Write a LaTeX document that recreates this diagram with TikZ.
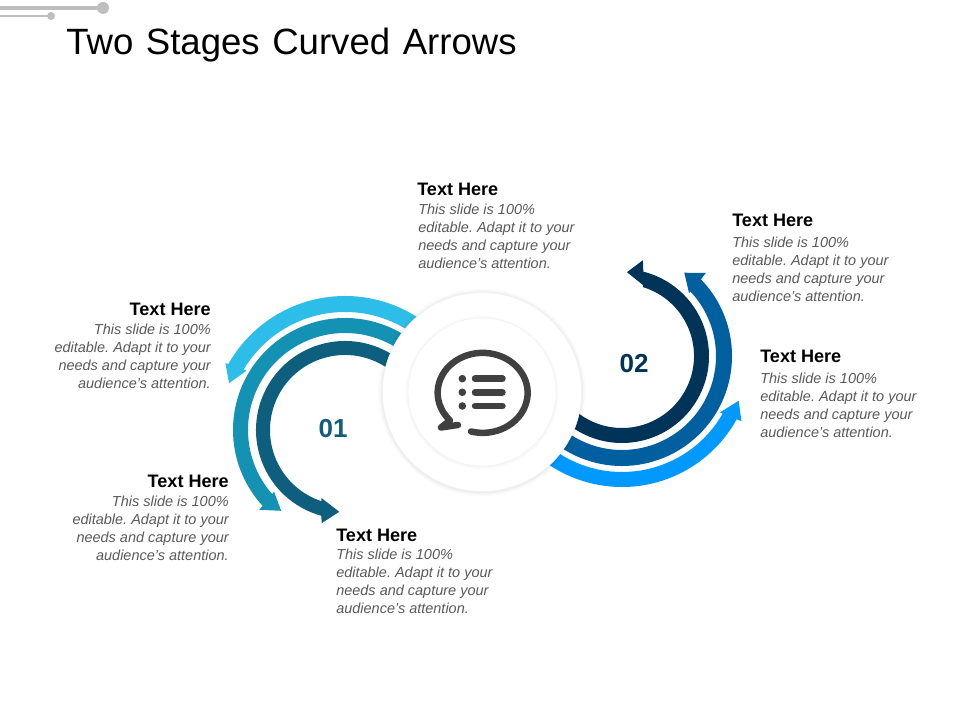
\documentclass[tikz,border=0pt]{standalone}
\usepackage{fontspec}
\setmainfont{Liberation Sans}
\frenchspacing
\definecolor{leftouter}{HTML}{2CBDE8}
\definecolor{leftmid}{HTML}{1492B4}
\definecolor{leftinner}{HTML}{0E5F7E}
\definecolor{rightouter}{HTML}{0099FF}
\definecolor{rightmid}{HTML}{005F9E}
\definecolor{rightinner}{HTML}{003358}
\definecolor{icongray}{HTML}{404040}
\definecolor{bargray}{HTML}{BFBFBF}
\definecolor{bodygray}{HTML}{595959}
\tikzset{
  headtext/.style={inner sep=0pt, font=\fontsize{12.85}{14}\selectfont\bfseries, text=black},
  bodytext/.style={inner sep=0pt, font=\fontsize{10.3}{12.7}\selectfont\itshape, text=bodygray},
  numtext/.style={inner sep=0pt, font=\fontsize{18.5}{20}\selectfont\bfseries},
  iconline/.style={draw=icongray, line width=4.6pt, line cap=round, line join=round},
  disc/.style={fill=white, draw=black!5, line width=0.4pt},
}
\newcommand{\ringarrow}[9]{%
  \fill[#1] (#4:#2) arc[start angle=#4, end angle=#5, radius=#2]
    -- #7 -- #8 -- #9 -- (#6:#3) arc[start angle=#6, end angle=#4, radius=#3] -- cycle;}
\newcommand{\slidetext}{This slide is 100\%\\editable. Adapt it to your\\needs and capture your\\audience\symbol{39}s attention.}
\begin{document}
\begin{tikzpicture}[x=0.025cm, y=0.025cm]
  \useasboundingbox (0,0) rectangle (960,720);
  \draw[bargray, line width=3.2pt] (0,712) -- (103,712);
  \fill[bargray] (103,712) circle[radius=6];
  \draw[bargray, line width=2.1pt] (0,704) -- (51,704);
  \fill[bargray] (51,704) circle[radius=4];
  \node[inner sep=0pt, anchor=base west, font=\fontsize{26}{30}\selectfont] (title) at (66,665) {\spaceskip=.345em Two Stages Curved Arrows};

  \begin{scope}[shift={(345,290)}]
    \ringarrow{leftouter}{134}{118}{40}{150.5}{149.2}{(150.8:137)}{(158:125)}{(149:115)}
    \ringarrow{leftmid}{112}{97}{30}{222.6}{221.3}{(223:117)}{(231.7:103)}{(221:94)}
    \ringarrow{leftinner}{89}{75}{20}{254.5}{251.6}{(256:96)}{(266:82)}{(251:72)}
  \end{scope}
  \begin{scope}[shift={(622,364)}]
    \ringarrow{rightinner}{87}{72}{190}{435.8}{433.2}{(77.7:98)}{(86.6:84)}{(73.5:74)}
    \ringarrow{rightmid}{110}{94}{200}{404.2}{403.3}{(44.7:118)}{(53.2:104)}{(43.2:92)}
    \ringarrow{rightouter}{131}{116}{210}{331.1}{330.2}{(-28.6:136)}{(-21:125)}{(-30:113)}
  \end{scope}

  \foreach \w/\o in {6/0.015, 4/0.02, 2/0.03}
    \draw[black, opacity=\o, line width=\w] (482,327.5) circle[radius=99.5];
  \node[disc, circle, minimum size=199*0.025cm, inner sep=0pt] (outerdisc) at (482,328) {};
  \foreach \w/\o in {4/0.012, 2/0.02}
    \draw[black, opacity=\o, line width=\w] (482,327.5) circle[radius=74];
  \node[disc, circle, minimum size=148*0.025cm, inner sep=0pt] (innerdisc) at (482,328) {};

  \draw[iconline] (471,288.5) arc[start angle=-105, end angle=215, x radius=45, y radius=40]
    .. controls (447,302) and (449,301) .. (450,299.5) -- (441,292.5) -- (458,295);
  \foreach \y in {341.3, 327.7, 314} {
    \fill[icongray] (462.3,\y) circle[radius=3.8];
    \draw[iconline] (475,\y) -- (502.5,\y);
  }

  \node[numtext, text=leftinner] (numone) at (333,291) {01};
  \node[numtext, text=rightinner] (numtwo) at (634,356) {02};

  \node[headtext, anchor=base west] (headtop) at (417,524) {Text Here};
  \node[bodytext, anchor=north west, align=left] (bodytop) at (418,516) {\slidetext};
  \node[headtext, anchor=base west] (headupper) at (732,493) {Text Here};
  \node[bodytext, anchor=north west, align=left] (bodyupper) at (732,483) {\slidetext};
  \node[headtext, anchor=base west] (headlower) at (760,357) {Text Here};
  \node[bodytext, anchor=north west, align=left] (bodylower) at (760,347) {\slidetext};
  \node[headtext, anchor=base west] (headbottom) at (336,178) {Text Here};
  \node[bodytext, anchor=north west, align=left] (bodybottom) at (336,171) {\slidetext};
  \node[headtext, anchor=base east] (headleft) at (211,404) {Text Here};
  \node[bodytext, anchor=north east, align=right] (bodyleft) at (211,396) {\slidetext};
  \node[headtext, anchor=base east] (headlow) at (229,232) {Text Here};
  \node[bodytext, anchor=north east, align=right] (bodylow) at (229,224) {\slidetext};
\end{tikzpicture}
\end{document}
